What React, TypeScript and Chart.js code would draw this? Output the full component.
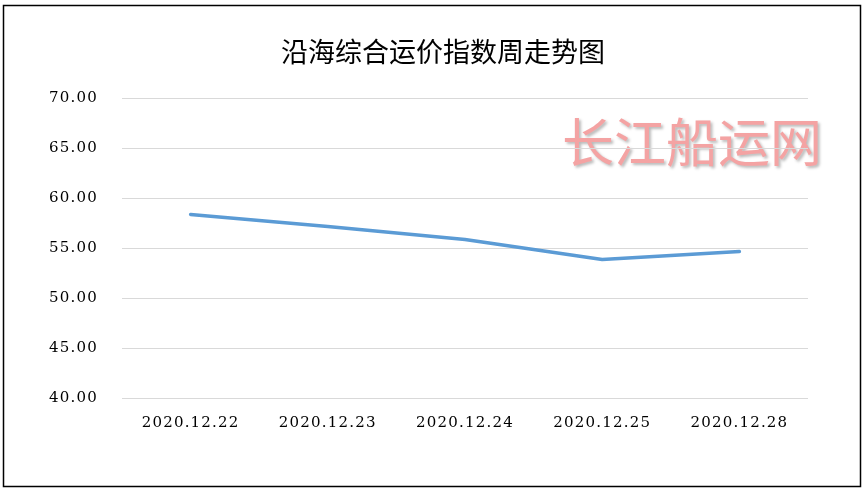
import React, { useEffect, useRef } from "react";
import { Chart, registerables } from "chart.js";

Chart.register(...registerables);

const categories = ["2020.12.22", "2020.12.23", "2020.12.24", "2020.12.25", "2020.12.28"];
const indexValues = [58.35, 57.15, 55.85, 53.85, 54.65];
const yMin = 40;
const yMax = 70;
const yStep = 5;
const titleText = "沿海综合运价指数周走势图";
const watermarkText = "长江船运网";

const W = 865;
const H = 492;

const decorPlugin = {
  id: "decor",
  beforeDraw(chart: any) {
    const ctx = chart.ctx as CanvasRenderingContext2D;
    ctx.save();
    (ctx as any).letterSpacing = "0px";
    ctx.fillStyle = "#ffffff";
    ctx.fillRect(0, 0, W, H);
    ctx.strokeStyle = "#000000";
    ctx.lineWidth = 1.5;
    ctx.strokeRect(3.5, 5.5, 857, 481);
    ctx.fillStyle = "#000000";
    ctx.font = '27px "Noto Sans CJK SC"';
    ctx.textAlign = "center";
    ctx.textBaseline = "middle";
    ctx.fillText(titleText, 443, 52);
    ctx.font = '52px "Noto Sans CJK SC"';
    ctx.shadowColor = "rgba(0,0,0,0.28)";
    ctx.shadowBlur = 3;
    ctx.shadowOffsetX = 2;
    ctx.shadowOffsetY = 2;
    ctx.fillStyle = "#f4a3a3";
    ctx.fillText(watermarkText, 692, 142);
    ctx.restore();
    (ctx as any).letterSpacing = "1.2px";
  },
  afterDraw(chart: any) {
    (chart.ctx as any).letterSpacing = "0px";
  },
};

export default function App() {
  const canvasRef = useRef<HTMLCanvasElement | null>(null);

  useEffect(() => {
    if (!canvasRef.current) return;
    const chart = new Chart(canvasRef.current, {
      type: "line",
      data: {
        labels: categories,
        datasets: [
          {
            data: indexValues,
            borderColor: "#5b9bd5",
            backgroundColor: "#5b9bd5",
            borderWidth: 3.5,
            pointRadius: 0,
            tension: 0,
            fill: false,
            borderCapStyle: "round",
            borderJoinStyle: "round",
          },
        ],
      },
      options: {
        responsive: false,
        animation: false,
        devicePixelRatio: 1,
        layout: { padding: { top: 98, left: 0, right: 57, bottom: 0 } },
        plugins: {
          legend: { display: false },
          title: { display: false },
          tooltip: { enabled: false },
        },
        scales: {
          x: {
            offset: true,
            grid: { display: false },
            border: { display: false },
            ticks: {
              color: "#000000",
              font: { family: '"DejaVu Serif"', size: 15 },
              padding: 8,
              maxRotation: 0,
              autoSkip: false,
            },
            afterFit: (scale: any) => {
              scale.height = 94;
            },
          },
          y: {
            min: yMin,
            max: yMax,
            grid: { color: "#d9d9d9", lineWidth: 1, drawTicks: false },
            border: { display: false },
            ticks: {
              stepSize: yStep,
              color: "#000000",
              font: { family: '"DejaVu Serif"', size: 15 },
              padding: 24,
              callback: (v: any) => Number(v).toFixed(2),
            },
            afterFit: (scale: any) => {
              scale.width = 122;
            },
          },
        },
      },
      plugins: [decorPlugin],
    });
    return () => chart.destroy();
  }, []);

  return (
    <div style={{ position: "absolute", left: 0, top: 0, width: W, height: H }}>
      <canvas ref={canvasRef} width={W} height={H} style={{ display: "block", width: W, height: H }} />
    </div>
  );
}
